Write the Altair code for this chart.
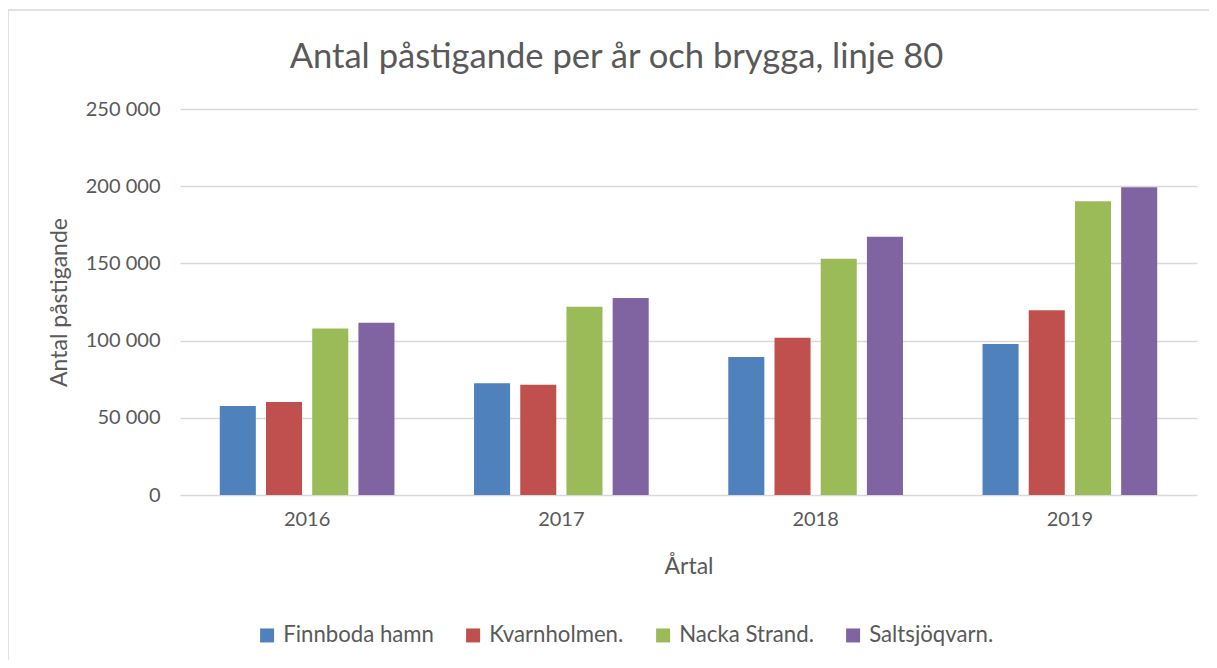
import altair as alt
import pandas as pd

years = ["2016", "2017", "2018", "2019"]
series = ["Finnboda hamn", "Kvarnholmen.", "Nacka Strand.", "Saltsjöqvarn."]
colors = ["#4F81BD", "#C0504D", "#9BBB59", "#8064A2"]
finnboda = [57700, 72300, 89400, 97800]
kvarnholmen = [60300, 71400, 101900, 119600]
nacka = [107800, 122000, 153000, 190200]
saltsjo = [111600, 127600, 167300, 199300]
y_ticks = [0, 50000, 100000, 150000, 200000, 250000]

rows = []
for s, vals in zip(series, [finnboda, kvarnholmen, nacka, saltsjo]):
    for y, v in zip(years, vals):
        rows.append({"year": y, "series": s, "value": v})
df = pd.DataFrame(rows)

FONT = "Lato"
TXT = "#595959"

bars = alt.Chart(df).mark_bar().encode(
    x=alt.X("year:N", sort=years,
            scale=alt.Scale(paddingInner=0.313, paddingOuter=0.1565),
            axis=alt.Axis(title="Årtal", labelAngle=0, ticks=False, domain=False,
                          labelFontSize=20, labelColor=TXT, labelPadding=14,
                          titleFontSize=23, titleColor=TXT, titleFontWeight="normal",
                          titleY=71, titleBaseline="middle")),
    xOffset=alt.XOffset("series:N", sort=series,
                        scale=alt.Scale(paddingInner=0.22, paddingOuter=0)),
    y=alt.Y("value:Q",
            scale=alt.Scale(domain=[0, 250000], nice=False),
            axis=alt.Axis(title="Antal påstigande", values=y_ticks,
                          labelExpr="replace(format(datum.value, ','), ',', ' ')",
                          ticks=False, domain=False, labelPadding=20,
                          labelFontSize=20, labelColor=TXT,
                          gridColor="#D9D9D9", gridWidth=1.5,
                          titleFontSize=23, titleColor=TXT, titleFontWeight="normal",
                          titleX=-121, titleY=193, titleBaseline="middle",
                          titleAlign="center")),
    color=alt.Color("series:N", sort=series,
                    scale=alt.Scale(domain=series, range=colors),
                    legend=alt.Legend(title=None, orient="none", direction="horizontal",
                                      legendX=76, legendY=515,
                                      symbolType="square", symbolSize=196,
                                      symbolStrokeWidth=0,
                                      labelFontSize=22.2, labelColor=TXT,
                                      labelOffset=5, columnPadding=28)),
)

frame = alt.Chart(pd.DataFrame({"a": [0]})).mark_rect(
    fill=None, stroke="#D9D9D9", strokeWidth=1.5, clip=False
).encode(
    x=alt.value(-172), x2=alt.value(1200),
    y=alt.value(-99), y2=alt.value(700),
)

chart = alt.layer(frame, bars).properties(
    width=1017, height=386,
    autosize=alt.AutoSizeParams(type="none"),
    padding={"left": 172, "top": 101, "right": 12, "bottom": 165},
    title=alt.TitleParams("Antal påstigande per år och brygga, linje 80",
                          fontSize=34.6, color=TXT, fontWeight="normal",
                          anchor="middle", offset=0, dy=66, dx=-72, font=FONT),
).configure(font=FONT).configure_view(stroke=None)

chart.save("out.html", embed_options={"renderer": "svg", "actions": False})
